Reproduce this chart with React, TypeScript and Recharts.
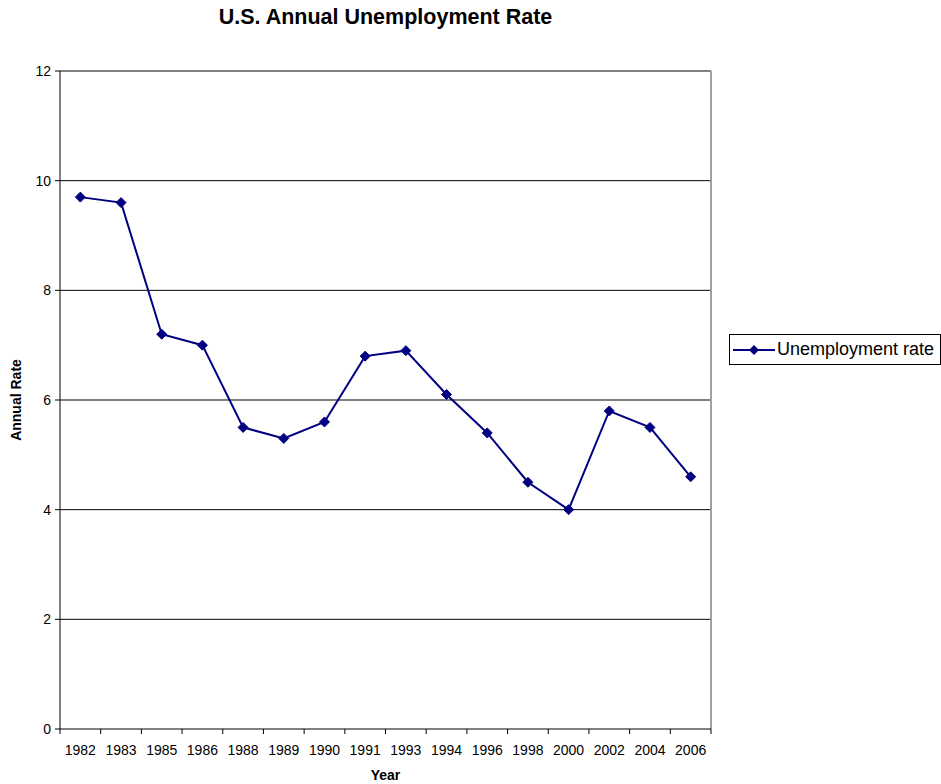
import React from 'react';
import { LineChart, Line, XAxis, YAxis, CartesianGrid, Legend, ReferenceLine } from 'recharts';

const years = ['1982', '1983', '1985', '1986', '1988', '1989', '1990', '1991', '1993', '1994', '1996', '1998', '2000', '2002', '2004', '2006'];
const rates = [9.7, 9.6, 7.2, 7.0, 5.5, 5.3, 5.6, 6.8, 6.9, 6.1, 5.4, 4.5, 4.0, 5.8, 5.5, 4.6];
const yTicks = [0, 2, 4, 6, 8, 10, 12];

// pos = centre of each category band on a 0..n numeric axis (used only for the boundary tick marks)
const data = years.map((year, i) => ({ year, rate: rates[i], pos: i + 0.5 }));
const boundaryTicks = [...years.map((_, i) => i), years.length];

const NAVY = '#000080';
const FONT = '"Liberation Sans", Arial, sans-serif';

const Diamond = (props: any) => {
  const { cx, cy } = props;
  if (cx == null || cy == null) return null;
  const r = 5;
  return (
    <polygon
      points={`${cx},${cy - r} ${cx + r},${cy} ${cx},${cy + r} ${cx - r},${cy}`}
      fill={NAVY}
      stroke={NAVY}
    />
  );
};

const LegendBox = () => (
  <div
    style={{
      display: 'flex',
      alignItems: 'center',
      border: '1px solid #000',
      background: '#fff',
      height: 29,
      paddingLeft: 3,
      paddingRight: 6,
      fontFamily: FONT,
      fontSize: 18,
      color: '#000',
      whiteSpace: 'nowrap',
    }}
  >
    <svg width={42} height={12} style={{ marginRight: 2 }}>
      <line x1={0} y1={6} x2={42} y2={6} stroke={NAVY} strokeWidth={2} />
      <polygon points="21,1 26,6 21,11 16,6" fill={NAVY} />
    </svg>
    Unemployment rate
  </div>
);

const NoLabel = () => <g />;

export default function App() {
  return (
    <div style={{ position: 'fixed', left: 0, top: 0, width: 941, height: 784, background: '#fff', fontFamily: FONT }}>
      <div
        style={{
          position: 'absolute',
          left: 60,
          width: 651,
          top: 5,
          textAlign: 'center',
          fontWeight: 'bold',
          fontSize: 21.5,
          color: '#000',
        }}
      >
        U.S. Annual Unemployment Rate
      </div>
      <LineChart width={941} height={784} data={data} margin={{ top: 71, right: 230, bottom: 9, left: 0 }}>
        <CartesianGrid vertical={false} stroke="#000" horizontalValues={[2, 4, 6, 8, 10]} />
        <XAxis
          xAxisId="b"
          type="number"
          dataKey="pos"
          domain={[0, years.length]}
          ticks={boundaryTicks}
          tick={<NoLabel />}
          height={1}
          tickSize={5}
          stroke="#000"
          allowDataOverflow
        />
        <XAxis
          xAxisId="cat"
          dataKey="year"
          scale="band"
          tickLine={false}
          axisLine={false}
          height={45}
          tickMargin={9}
          tick={{ fill: '#000', fontSize: 14, fontFamily: FONT }}
          interval={0}
          label={{ value: 'Year', position: 'insideBottom', offset: -5, fill: '#000', fontSize: 14, fontWeight: 'bold', fontFamily: FONT }}
        />
        <YAxis
          domain={[0, 12]}
          ticks={yTicks}
          width={60}
          stroke="#000"
          tickSize={5}
          tickMargin={4}
          tick={{ fill: '#000', fontSize: 14, fontFamily: FONT }}
          label={{ value: 'Annual Rate', angle: -90, position: 'insideLeft', offset: 16, fill: '#000', fontSize: 14, fontWeight: 'bold', fontFamily: FONT, style: { textAnchor: 'middle' } }}
        />
        <ReferenceLine xAxisId="b" y={12} stroke="#808080" strokeWidth={2} />
        <ReferenceLine xAxisId="b" x={years.length} stroke="#a0a0a0" strokeWidth={2} />
        <Legend
          content={<LegendBox />}
          wrapperStyle={{ position: 'absolute', left: 729, top: 334, width: 'auto', height: 0 }}
        />
        <Line
          xAxisId="cat"
          type="linear"
          dataKey="rate"
          name="Unemployment rate"
          stroke={NAVY}
          strokeWidth={2}
          dot={<Diamond />}
          activeDot={false}
          isAnimationActive={false}
        />
      </LineChart>
    </div>
  );
}
